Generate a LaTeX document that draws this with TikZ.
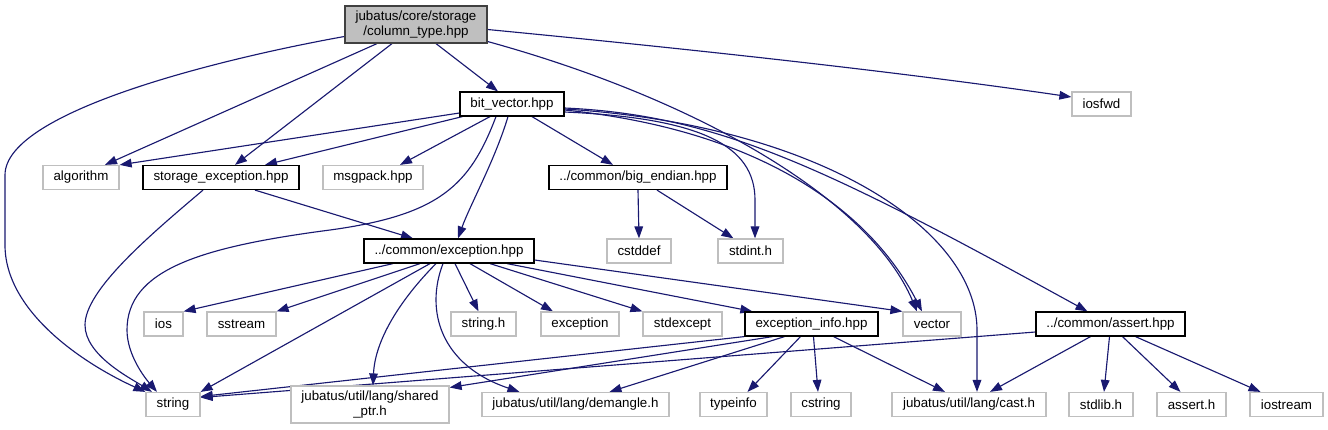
\documentclass[tikz,border=0pt]{standalone}
\usepackage{fontspec}
\setmainfont{Liberation Sans}
\usetikzlibrary{arrows.meta,calc,backgrounds}
\definecolor{edgeblue}{HTML}{191970}
\definecolor{boxgray}{HTML}{BFBFBF}
\definecolor{topfill}{HTML}{BFBFBF}
\definecolor{topdraw}{HTML}{404040}
\tikzset{
  base/.style={rectangle, inner sep=0pt, fill=white, align=center, line width=0.9pt,
    font=\fontsize{10pt}{11.5pt}\selectfont},
  gbox/.style={base, draw=boxgray},
  bbox/.style={base, draw=black},
  topbox/.style={base, draw=topdraw, fill=topfill},
  sz/.style 2 args={minimum width=#1*0.75pt, minimum height=#2*0.75pt},
  dep/.style={draw=edgeblue, line width=0.85pt, -{Triangle[length=9pt,width=6.5pt]}}
}
\begin{document}
\begin{tikzpicture}[x=0.75pt,y=-0.75pt]
\useasboundingbox (0,0) rectangle (1328,429);
% nodes
\node[topbox, sz={142}{37}] (col) at (416,24.5) {jubatus/core/storage\\/column\_type.hpp};
\node[bbox, sz={104}{24}] (bv) at (512,104) {bit\_vector.hpp};
\node[gbox, sz={59}{24}] (iosfwd) at (1101.5,104) {iosfwd};
\node[gbox, sz={76}{24}] (algo) at (81,177.5) {algorithm};
\node[bbox, sz={156}{24}] (se) at (221,177.5) {storage\_exception.hpp};
\node[gbox, sz={100}{24}] (msgpack) at (373,177.5) {msgpack.hpp};
\node[bbox, sz={178}{24}] (be) at (638,177.5) {../common/big\_endian.hpp};
\node[bbox, sz={170}{24}] (exc) at (449,251) {../common/exception.hpp};
\node[gbox, sz={64}{24}] (cstddef) at (639,251) {cstddef};
\node[gbox, sz={65}{24}] (stdint) at (750.5,251) {stdint.h};
\node[gbox, sz={39}{24}] (ios) at (163.5,324) {ios};
\node[gbox, sz={69}{24}] (sstream) at (241.5,324) {sstream};
\node[gbox, sz={65}{24}] (stringh) at (483.5,324) {string.h};
\node[gbox, sz={78}{24}] (exception) at (580,324) {exception};
\node[gbox, sz={79}{24}] (stdexcept) at (682.5,324) {stdexcept};
\node[bbox, sz={133}{24}] (einfo) at (811.5,324) {exception\_info.hpp};
\node[gbox, sz={58}{24}] (vector) at (932,324) {vector};
\node[bbox, sz={149}{24}] (assert) at (1110.5,324) {../common/assert.hpp};
\node[gbox, sz={54}{24}] (string) at (173,404.5) {string};
\node[gbox, sz={158}{37}] (shared) at (370,404.5) {jubatus/util/lang/shared\\\_ptr.h};
\node[gbox, sz={187}{24}] (demangle) at (575.5,404.5) {jubatus/util/lang/demangle.h};
\node[gbox, sz={67}{24}] (typeinfo) at (733.5,404.5) {typeinfo};
\node[gbox, sz={60}{24}] (cstring) at (821,404.5) {cstring};
\node[gbox, sz={154}{24}] (cast) at (969,404.5) {jubatus/util/lang/cast.h};
\node[gbox, sz={64}{24}] (stdlib) at (1101,404.5) {stdlib.h};
\node[gbox, sz={69}{24}] (asserth) at (1191.5,404.5) {assert.h};
\node[gbox, sz={73}{24}] (iostream) at (1286.5,404.5) {iostream};
% edges
\begin{pgfonlayer}{background}
% column_type.hpp
\draw[dep] ($(col.west)+(0,12)$) .. controls (230,57) and (5,110) .. (5,175) -- (5,245) .. controls (5,310) and (80,362) .. (string.north west);
\draw[dep] ($(col.south)+(-39,0)$) -- ($(algo.north)+(24,0)$);
\draw[dep] ($(col.south)+(-24,0)$) -- ($(se.north)+(14,0)$);
\draw[dep] ($(col.south)+(20,0)$) -- ($(bv.north)+(-14,0)$);
\draw[dep] ($(col.east)+(0,17)$) .. controls (700,100) and (870,200) .. ($(vector.north)+(-15,0)$);
\draw[dep] ($(col.east)+(0,5)$) .. controls (700,50) and (900,72) .. ($(iosfwd.west)+(0,-7)$);
% bit_vector.hpp
\draw[dep] ($(bv.west)+(0,9)$) -- (algo.north east);
\draw[dep] ($(bv.south west)+(3,0)$) -- ($(se.north)+(44,0)$);
\draw[dep] ($(bv.south)+(-22,0)$) -- ($(msgpack.north)+(27,0)$);
\draw[dep] ($(bv.south)+(-16,0)$) .. controls (470,185) and (440,215) .. (330,230) .. controls (200,247) and (127,270) .. (127,330) .. controls (127,355) and (145,378) .. ($(string.north)+(-16,0)$);
\draw[dep] ($(bv.south)+(-4,0)$) .. controls (495,160) and (470,205) .. ($(exc.north)+(9,0)$);
\draw[dep] ($(bv.south)+(20,0)$) -- ($(be.north)+(-25,0)$);
\draw[dep] ($(bv.east)+(0,8)$) .. controls (700,118) and (755,145) .. (755,200) -- ($(stdint.north)+(4.5,0)$);
\draw[dep] ($(bv.east)+(0,6)$) .. controls (760,130) and (870,210) .. ($(vector.north)+(-10,0)$);
\draw[dep] ($(bv.east)+(0,5)$) .. controls (820,125) and (977,230) .. (977,330) -- ($(cast.north)+(8,0)$);
\draw[dep] ($(bv.east)+(0,4)$) .. controls (720,115) and (830,170) .. ($(assert.north)+(-23,0)$);
% storage_exception.hpp
\draw[dep] ($(se.south)+(-18,0)$) .. controls (150,235) and (85,290) .. (85,325) .. controls (85,355) and (130,378) .. ($(string.north)+(-21,0)$);
\draw[dep] ($(se.south)+(34,0)$) -- ($(exc.north)+(-36,0)$);
% big_endian.hpp
\draw[dep] (be.south) -- (cstddef.north);
\draw[dep] ($(be.south)+(19,0)$) -- ($(stdint.north)+(-17,0)$);
% exception.hpp
\draw[dep] ($(exc.south)+(-56,0)$) -- (ios.north east);
\draw[dep] ($(exc.south)+(-29,0)$) -- (sstream.north east);
\draw[dep] ($(exc.south)+(-19,0)$) -- (string.north east);
\draw[dep] ($(exc.south)+(-13,0)$) .. controls (400,300) and (375,340) .. ($(shared.north)+(3,0)$);
\draw[dep] ($(exc.south)+(-6,0)$) .. controls (425,310) and (440,365) .. ($(demangle.north)+(-56,0)$);
\draw[dep] ($(exc.south)+(6,0)$) -- ($(stringh.north)+(-5,0)$);
\draw[dep] ($(exc.south)+(21,0)$) -- ($(exception.north)+(-27,0)$);
\draw[dep] ($(exc.south)+(41,0)$) -- (stdexcept.north west);
\draw[dep] ($(exc.south)+(58,0)$) -- ($(einfo.north west)+(8,0)$);
\draw[dep] ($(exc.east)+(0,9)$) -- (vector.north west);
% exception_info.hpp
\draw[dep] (einfo.south west) -- ($(string.east)+(0,-8)$);
\draw[dep] ($(einfo.south)+(-39,0)$) -- ($(shared.east)+(0,-17)$);
\draw[dep] ($(einfo.south)+(-27,0)$) -- ($(demangle.north)+(34,0)$);
\draw[dep] ($(einfo.south)+(-11,0)$) -- ($(typeinfo.north)+(14,0)$);
\draw[dep] ($(einfo.south)+(2,0)$) -- ($(cstring.north)+(-3,0)$);
\draw[dep] ($(einfo.south)+(22,0)$) -- ($(cast.north)+(-24,0)$);
% assert.hpp
\draw[dep] ($(assert.west)+(0,8)$) -- ($(string.east)+(0,-7)$);
\draw[dep] ($(assert.south)+(-20,0)$) -- ($(cast.north)+(21,0)$);
\draw[dep] ($(assert.south)+(-1,0)$) -- ($(stdlib.north)+(3,0)$);
\draw[dep] ($(assert.south)+(12,0)$) -- ($(asserth.north)+(-11,0)$);
\draw[dep] ($(assert.south)+(25,0)$) -- ($(iostream.north)+(-26,0)$);
\end{pgfonlayer}
\end{tikzpicture}
\end{document}
